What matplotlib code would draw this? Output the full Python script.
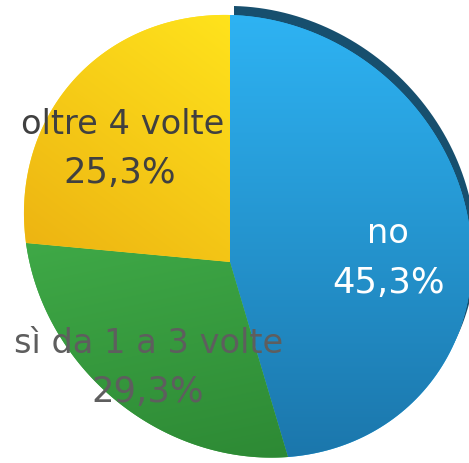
import numpy as np
import matplotlib
matplotlib.use("Agg")
import matplotlib.pyplot as plt
import matplotlib.colors as mcolors
from matplotlib.path import Path
from matplotlib.transforms import Transform, Affine2D

# ── Data ─────────────────────────────────────────────────────────────────────
categories = ["no", "sì da 1 a 3 volte", "oltre 4 volte"]
shares     = [45.3, 29.3, 25.3]
pct_labels = ["45,3%", "29,3%", "25,3%"]

# ── Colours ──────────────────────────────────────────────────────────────────
GRAD_TOP = ["#2EB3F3", "#3FA947", "#FFE31C"]
GRAD_BOT = ["#1B76AB", "#2D8934", "#EDB412"]
RIM      = "#174F6E"
TEXT_COL = ["#FFFFFF", "#5E5E5E", "#404040"]

W, HGT = 469, 463


class Tilt(Transform):
    """Projective map unit-circle pie -> pixel space (fake 3D tilt)."""
    input_dims = output_dims = 2
    is_separable = False

    def __init__(self, src, dst):
        super().__init__()
        A, b = [], []
        for (x, y), (u, v) in zip(src, dst):
            A.append([x, y, 1, 0, 0, 0, -u * x, -u * y]); b.append(u)
            A.append([0, 0, 0, x, y, 1, -v * x, -v * y]); b.append(v)
        h = np.linalg.solve(np.array(A, float), np.array(b, float))
        self.M = np.append(h, 1).reshape(3, 3)

    def transform_non_affine(self, xy):
        xy = np.asarray(xy, float).reshape(-1, 2)
        p = np.column_stack([xy, np.ones(len(xy))]) @ self.M.T
        return p[:, :2] / p[:, 2:]

    def transform_path_non_affine(self, path):
        pts = [seg(np.linspace(0, 1, 30)) for seg, code in path.iter_bezier()
               if code != Path.MOVETO]
        return Path(self.transform_non_affine(np.concatenate(pts)), closed=True)


# slice boundaries on the unit circle, from the data
frac  = np.array(shares) / sum(shares)
edges = np.radians(90 - 360 * np.cumsum(frac))
src = [(0, 0), (0, 1),
       (np.cos(edges[0]), np.sin(edges[0])),
       (np.cos(edges[1]), np.sin(edges[1]))]
# where centre / top / the two lower boundaries land in the picture
dst = [(230, 262), (230, 15), (288, 457), (26, 243)]
tilt = Tilt(src, dst)

fig = plt.figure(figsize=(W / 100, HGT / 100), dpi=100, facecolor="white")
ax = fig.add_axes([0, 0, 1, 1])

# dark back rim behind the "no" slice
rim, _ = ax.pie(shares, startangle=90, counterclock=False,
                colors=[RIM, "none", "none"], wedgeprops=dict(linewidth=0))
for w in rim:
    w.set_transform(tilt + Affine2D().translate(4, -9) + ax.transData)
    w.set_zorder(1)

wedges, _ = ax.pie(shares, startangle=90, counterclock=False,
                   colors=GRAD_TOP, wedgeprops=dict(linewidth=0))
for w in wedges:
    w.set_transform(tilt + ax.transData)
    w.set_zorder(2)

# gradient shading clipped to each slice
yy, xx = np.mgrid[0:HGT, 0:W].astype(float)
ramps = [
    (yy - 15) / 445,
    (yy - 240) / 220 * 0.8 + (xx - 30) / 260 * 0.2,
    (yy - 15) / 230 * 0.6 + (230 - xx) / 205 * 0.4,
]
for w, top, bot, t in zip(wedges, GRAD_TOP, GRAD_BOT, ramps):
    a = np.array(mcolors.to_rgb(top)); b = np.array(mcolors.to_rgb(bot))
    t = np.clip(t, 0, 1)[..., None]
    im = ax.imshow(a * (1 - t) + b * t, extent=(0, W, HGT, 0), origin="upper",
                   aspect="auto", zorder=3, interpolation="bilinear")
    im.set_clip_path(w)

# labels
label_xy = [(388, 243), (149, 353), (123, 134)]
pct_xy   = [(389, 293), (148, 402), (120, 183)]
for cat, pct, (lx, ly), (px, py), col in zip(categories, pct_labels,
                                             label_xy, pct_xy, TEXT_COL):
    ax.text(lx, ly, cat, ha="center", va="baseline", fontsize=24.2,
            color=col, zorder=5)
    ax.text(px, py, pct, ha="center", va="baseline", fontsize=25.5,
            color=col, zorder=5)

ax.set_xlim(0, W)
ax.set_ylim(HGT, 0)
ax.set_aspect("auto")
ax.axis("off")

plt.savefig("out.png", dpi=100, facecolor="white")
